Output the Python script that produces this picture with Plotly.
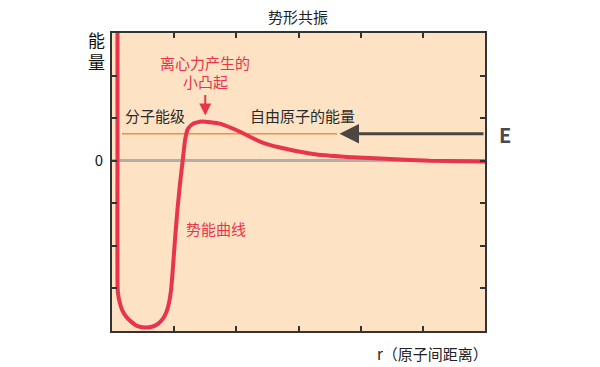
import plotly.graph_objects as go

# Potential energy curve (r, energy)
curve_r = [0.088, 0.088, 0.088, 0.097, 0.121, 0.161, 0.225, 0.306, 0.402, 0.531, 0.643,
           0.740, 0.820, 0.877, 0.917, 0.949, 0.973, 0.997, 1.021, 1.054, 1.094, 1.137,
           1.179, 1.222, 1.303, 1.443, 1.737, 2.059, 2.38, 2.70, 3.23, 3.78, 4.31, 5.11, 6.0]
curve_e = [3.6, 0.0, -2.89, -3.12, -3.31, -3.50, -3.66, -3.78, -3.88, -3.92, -3.90,
           -3.83, -3.71, -3.55, -3.34, -3.05, -2.65, -2.18, -1.71, -1.13, -0.54, 0.0,
           0.52, 0.75, 0.87, 0.92, 0.87, 0.68, 0.45, 0.31, 0.16, 0.09, 0.05, 0.0, -0.02]

level_energy = 0.635
level_r = [0.16, 3.62]
arrow_from_r = 6.0
arrow_to_r = 3.66

x_ticks = [1, 2, 3, 4, 5]
y_ticks = [-3, -2, -1, 0, 1, 2]
y_ticktext = ["", "", "", "0", "", ""]

RED = "#E8354B"
DARK = "#333333"
FONT = "Noto Sans CJK SC"

fig = go.Figure()

fig.add_trace(go.Scatter(x=level_r, y=[level_energy, level_energy], mode="lines",
                         line=dict(color="#F0903C", width=1.5), hoverinfo="skip"))
fig.add_trace(go.Scatter(x=curve_r, y=curve_e, mode="lines",
                         line=dict(color=RED, width=4, shape="spline", smoothing=0.5),
                         hoverinfo="skip"))

# grey stub outside the frame before "E"
fig.add_shape(type="line", xref="x", yref="y", x0=6.0, x1=6.13,
              y0=level_energy, y1=level_energy, line=dict(color="#9a9a9a", width=3))


def note(text, x, y, ref="x", size=15, color="#2a2a2a"):
    yr = "y" if ref == "x" else "paper"
    return dict(x=x, y=y, xref=ref, yref=yr, text=text, showarrow=False,
                xanchor="center", yanchor="middle",
                font=dict(family=FONT, size=size, color=color))


annotations = [
    dict(x=arrow_to_r, y=level_energy, ax=arrow_from_r, ay=level_energy,
         xref="x", yref="y", axref="x", ayref="y", text="", showarrow=True,
         arrowhead=2, arrowsize=1.3, arrowwidth=3, arrowcolor="#4B4640"),
    dict(x=1.50, y=1.06, ax=1.50, ay=1.58, xref="x", yref="y", axref="x", ayref="y",
         text="", showarrow=True, arrowhead=2, arrowsize=1.2, arrowwidth=2, arrowcolor=RED),
    note("<b>E</b>", 1.053, 0.658, ref="paper", size=20, color="#4A4A4A"),
    note("分子能级", 0.69, 1.06),
    note("自由原子的能量", 3.06, 1.06),
    note("离心力产生的", 1.50, 2.30, color=RED),
    note("小凸起", 1.50, 1.86, color=RED),
    note("势能曲线", 1.67, -1.60, color=RED),
    note("能<br>量", -0.041, 0.94, ref="paper", size=17, color="#111111"),
    note("r（原子间距离）", 0.858, -0.077, ref="paper", size=15, color="#222222"),
    note("势形共振", 0.499, 1.055, ref="paper", size=15, color="#222222"),
]

# page body has an 8px default margin, so the figure is sized/offset to compensate
fig.update_layout(
    width=592, height=359,
    margin=dict(l=104, r=115, t=25, b=36),
    paper_bgcolor="white",
    plot_bgcolor="#FDE2C4",
    showlegend=False,
    annotations=annotations,
    font=dict(family=FONT),
)
fig.update_xaxes(range=[0, 6], tickvals=x_ticks, showticklabels=False,
                 ticks="inside", ticklen=5, tickwidth=1.5, tickcolor=DARK,
                 showline=True, linecolor=DARK, linewidth=2, mirror="ticks",
                 showgrid=False, zeroline=False)
fig.update_yaxes(range=[-4, 3], tickvals=y_ticks, ticktext=y_ticktext,
                 ticks="inside", ticklen=5, tickwidth=1.5, tickcolor=DARK,
                 showline=True, linecolor=DARK, linewidth=2, mirror="ticks",
                 showgrid=False, zeroline=True, zerolinecolor="#B5AEA6", zerolinewidth=3,
                 ticklabelstandoff=4,
                 tickfont=dict(family=FONT, size=15, color="#111111"))

fig.write_html("out.html")
